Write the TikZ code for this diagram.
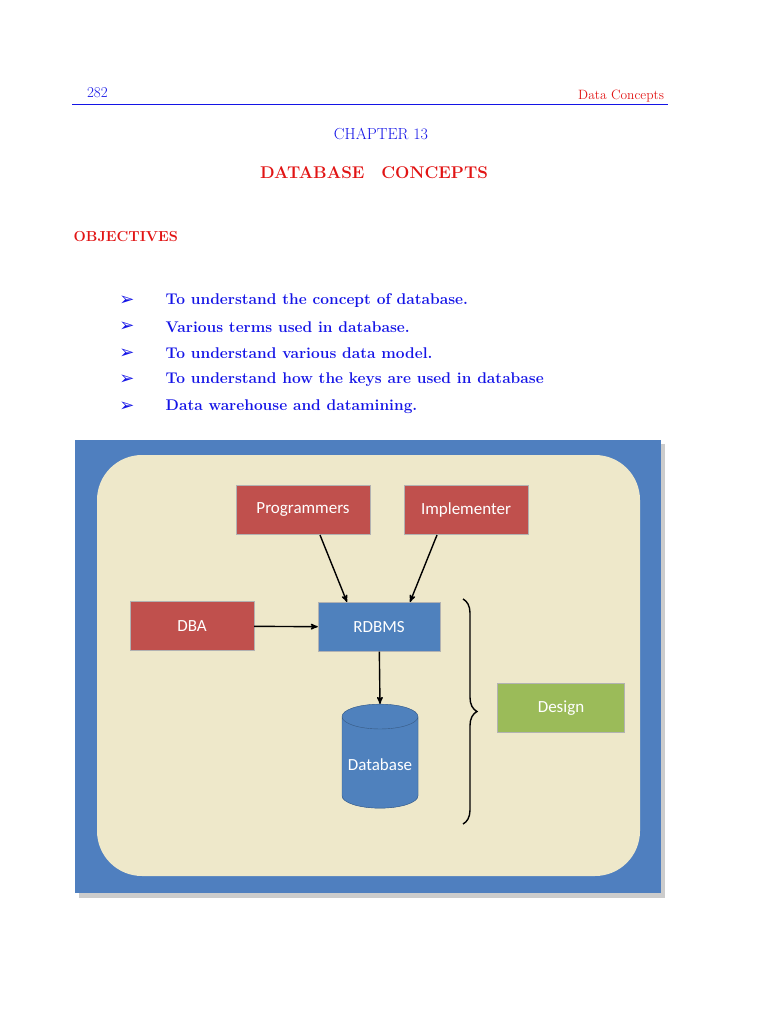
\documentclass[tikz,border=0pt]{standalone}
\usepackage{fontspec}
\newfontfamily\dejavu{DejaVu Sans}
\newfontfamily\boxfont{Carlito}
\usetikzlibrary{arrows,shapes.geometric,decorations.pathreplacing}
\definecolor{pageblue}{RGB}{20,20,230}
\definecolor{pagered}{RGB}{225,20,20}
\definecolor{framebl}{RGB}{79,127,191}
\definecolor{beige}{RGB}{238,232,202}
\definecolor{boxred}{RGB}{192,80,77}
\definecolor{boxblue}{RGB}{79,129,189}
\definecolor{boxgreen}{RGB}{155,187,89}

\begin{document}
\begin{tikzpicture}[x=1pt,y=-1pt,>=stealth',line width=1.4pt,
        box/.style={rectangle,draw=white!70!black,thin,text=white,inner sep=0pt,
            font=\boxfont\fontsize{17}{20}\selectfont,minimum width=#1,minimum height=49pt},
        obj/.style={anchor=west,text=pageblue,font=\bfseries\fontsize{15.5}{18}\selectfont}]
        \useasboundingbox (0,0) rectangle (768,1024);
        % header
        \node[anchor=base west,text=pageblue,font=\fontsize{15}{18}\selectfont] (page) at (83,98) {282};
        \node[anchor=base east,text=pagered,font=\fontsize{13.5}{16}\selectfont] (head) at (668,100) {Data Concepts};
        \draw[pageblue,thin] (72,104) -- (668,104);
        \node[text=pageblue,font=\fontsize{16}{19}\selectfont] (chap) at (381,134) {CHAPTER 13};
        \node[text=pagered,font=\bfseries\fontsize{17}{20}\selectfont] (title) at (374,173) {DATABASE\quad CONCEPTS};
        \node[anchor=west,text=pagered,font=\bfseries\fontsize{14.5}{17}\selectfont,inner sep=0pt] (objhead) at (73,237) {OBJECTIVES};
        % objectives
        \foreach \t [count=\i] in {To understand the concept of database.,
            Various terms used in database.,
            To understand various data model.,
            To understand how the keys are used in database,
            Data warehouse and datamining.}{
            \node[text=pageblue,font=\dejavu\bfseries\fontsize{18}{20}\selectfont] (b\i) at (127,274+26.5*\i) {➢};
            \node[obj,inner sep=0pt] (o\i) at (165,274+26.5*\i) {\t};
        }
        % diagram frame
        \fill[black!20] (79,444) rectangle (665,898);
        \fill[framebl] (75,440) rectangle (661,893);
        \fill[beige,rounded corners=45pt] (97,455) rectangle (640,876);
        \node[box=134pt,fill=boxred] (prog) at (303,510) {Programmers};
        \node[box=124pt,fill=boxred] (impl) at (466,510) {Implementer};
        \node[box=124pt,fill=boxred] (dba) at (192,626) {DBA};
        \node[box=122pt,fill=boxblue] (rdbms) at (379,627) {RDBMS};
        \node[box=127pt,fill=boxgreen] (design) at (561,708) {Design};
        \node[cylinder,shape border rotate=90,aspect=0.35,draw=boxblue!70!black,thin,
            fill=boxblue,text=white,font=\boxfont\fontsize{17}{20}\selectfont,
            minimum width=76pt,minimum height=104pt,cylinder uses custom fill,
            cylinder body fill=boxblue,cylinder end fill=boxblue!60!white] (db) at (380,765) {Database};
        \draw[->] (320,535) -- (347,602);
        \draw[->] (437,535) -- (410,602);
        \draw[->] (dba) -- (rdbms);
        \draw[->] (rdbms) -- (db.top);
        \draw[decorate,decoration={brace,amplitude=14pt}] (463,599) -- (463,824);
\end{tikzpicture}
\end{document}
